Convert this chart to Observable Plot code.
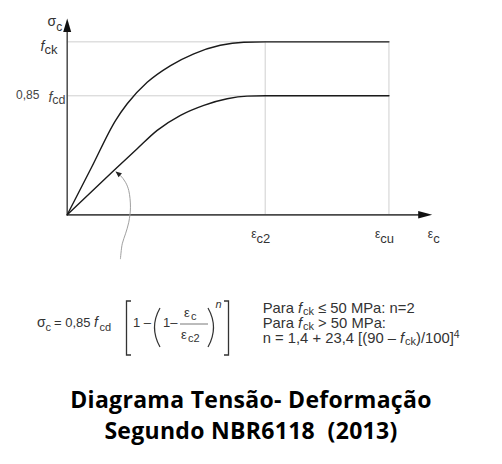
<!DOCTYPE html>
<html><head><meta charset="utf-8">
<script src="https://cdn.jsdelivr.net/npm/d3@7"></script>
<script src="https://cdn.jsdelivr.net/npm/@observablehq/plot@0.6"></script>
<style>
html,body{margin:0;padding:0;background:#fff;}
#page{position:relative;width:502px;height:464px;overflow:hidden;font-family:"Liberation Sans",Arial,sans-serif;}
#chart{position:absolute;left:0;top:0;}
#formula{position:absolute;left:0;top:290px;}
#title{position:absolute;left:0;top:384px;width:502px;text-align:center;font-family:"Open Sans",sans-serif;font-weight:700;font-size:23px;letter-spacing:0.3px;line-height:31px;color:#000;white-space:pre;}
</style></head><body>
<div id="page">
<div id="chart"></div>
<svg id="formula" width="502" height="72" font-family="Liberation Sans, Arial, sans-serif" fill="#333">
  <text x="37" y="36.5" font-size="14">σ</text>
  <text x="45.5" y="41" font-size="11">c</text>
  <text x="54" y="36.5" font-size="13">= 0,85</text>
  <text x="94" y="36.5" font-size="14" font-style="italic">f</text>
  <text x="99.5" y="41" font-size="11">cd</text>
  <path d="M131,11H126.5V65H131" fill="none" stroke="#333" stroke-width="1.3"/>
  <text x="133" y="36.5" font-size="13">1 –</text>
  <path d="M160,18Q149,37.5 160,57" fill="none" stroke="#333" stroke-width="1.2"/>
  <text x="163" y="36.5" font-size="13">1–</text>
  <text x="184" y="27" font-size="13">ε</text>
  <text x="191" y="30" font-size="11">c</text>
  <path d="M180,34H208" fill="none" stroke="#555" stroke-width="0.8"/>
  <text x="181" y="49" font-size="13">ε</text>
  <text x="188" y="52" font-size="11">c2</text>
  <path d="M208,18Q219,37.5 208,57" fill="none" stroke="#333" stroke-width="1.2"/>
  <text x="215.5" y="18" font-size="11" font-style="italic">n</text>
  <path d="M224,11H228.5V65H224" fill="none" stroke="#333" stroke-width="1.3"/>
  <g font-size="14.8">
    <text x="262.7" y="23">Para <tspan font-style="italic">f</tspan><tspan font-size="11" dy="2" dx="0.8">ck</tspan><tspan dy="-2"> ≤ 50 MPa: n=2</tspan></text>
    <text x="262.7" y="37.5">Para <tspan font-style="italic">f</tspan><tspan font-size="11" dy="2" dx="0.8">ck</tspan><tspan dy="-2"> &gt; 50 MPa:</tspan></text>
    <text x="262.7" y="53">n = 1,4 + 23,4 [(90 – <tspan font-style="italic">f</tspan><tspan font-size="11" dy="2" dx="0.8">ck</tspan><tspan dy="-2">)/100]</tspan><tspan font-size="10.5" dy="-5.5">4</tspan></text>
  </g>
</svg>
<div id="title">Diagrama Tensão- Deformação
Segundo NBR6118  (2013)</div>
</div>
<script>
// ---- data (strain in ‰-like schematic units, stress relative to fck) ----
const upperEps   = [0, 0.244, 0.488, 0.606, 0.808, 1.044, 1.279, 1.546, 1.784, 2.0, 3.25];
const upperSigma = [0, 0.272, 0.545, 0.642, 0.766, 0.863, 0.931, 0.980, 0.998, 1.0, 1.0];
const lowerEps   = [0, 0.471, 0.707, 0.909, 1.144, 1.380, 1.616, 1.818, 2.0, 3.25];
const lowerSigma = [0, 0.256, 0.382, 0.488, 0.575, 0.633, 0.671, 0.686, 0.688, 0.688];
const pointerEps   = [0.538, 0.556, 0.589, 0.622, 0.639, 0.622, 0.589, 0.538, 0.495];
const pointerSigma = [-0.254, -0.168, -0.110, -0.043, 0.044, 0.140, 0.188, 0.227, 0.247];
const pointerTip = {x: 0.488, y: 0.250};

const epsC2 = 2.0, epsCu = 3.25, epsMax = 3.687;
const fck = 1.0, fcd085 = 0.688, sigmaMax = 1.135;

const xTickValues = [epsC2, epsCu];
const xTickKeys = ["ec2", "ecu"];
const xAxisKey = "ec";
const yAxisKey = "sigc";

const upper = upperEps.map((x, i) => ({x, y: upperSigma[i]}));
const lower = lowerEps.map((x, i) => ({x, y: lowerSigma[i]}));
const pointer = pointerEps.map((x, i) => ({x, y: pointerSigma[i]}));

// rich-text label definitions: text, size, baseline shift, dx, italic
const rich = {
  sigc: [{t:"σ", s:14}, {t:"c", s:12, y:4.3}],
  fck: [{t:"f", s:14, i:true}, {t:"ck", s:13, y:3}],
  f085: [{t:"0,85", s:12}, {t:"f", s:14, i:true, y:2.7, dx:9}, {t:"cd", s:12.5, y:5}],
  ec2: [{t:"ε", s:12}, {t:"c2", s:13, y:5.7}],
  ecu: [{t:"ε", s:12}, {t:"cu", s:13, y:5.7}],
  ec: [{t:"ε", s:12}, {t:"c", s:13, y:5.7}]
};

const upArrow = {draw(ctx) { ctx.moveTo(0, 0); ctx.lineTo(4, 13.5); ctx.lineTo(-4, 13.5); ctx.closePath(); }};
const rightArrow = {draw(ctx) { ctx.moveTo(0, 0); ctx.lineTo(-14, -3.8); ctx.lineTo(-14, 3.8); ctx.closePath(); }};
const ptrArrow = {draw(ctx) { ctx.moveTo(0, 0); ctx.lineTo(3.1, 5.8); ctx.lineTo(6.4, 1.6); ctx.closePath(); }};

const labelFont = "Liberation Sans, Arial, sans-serif";

const chart = Plot.plot({
  width: 502,
  height: 270,
  marginLeft: 66.7,
  marginRight: 70.3,
  marginTop: 18,
  marginBottom: 55.7,
  x: {domain: [0, epsMax], axis: null},
  y: {domain: [0, sigmaMax], axis: null},
  style: {fontFamily: labelFont, background: "#fff"},
  marks: [
    Plot.ruleY([fck, fcd085], {x1: 0, x2: epsCu, stroke: "#cfcfcf", strokeWidth: 1}),
    Plot.ruleX([epsC2, epsCu], {y1: 0, y2: fck, stroke: "#cfcfcf", strokeWidth: 1}),
    Plot.ruleX([0], {y1: 0, y2: sigmaMax - 0.03, stroke: "#4a4a4a", strokeWidth: 1.5}),
    Plot.ruleY([0], {x1: 0, x2: epsMax - 0.05, stroke: "#4a4a4a", strokeWidth: 1.7}),
    Plot.dot([{x: 0, y: sigmaMax}], {x: "x", y: "y", symbol: upArrow, fill: "#111", stroke: "none"}),
    Plot.dot([{x: epsMax, y: 0}], {x: "x", y: "y", symbol: rightArrow, fill: "#111", stroke: "none"}),
    Plot.line(upper, {x: "x", y: "y", curve: "monotone-x", stroke: "#1a1a1a", strokeWidth: 1.4}),
    Plot.line(lower, {x: "x", y: "y", curve: "monotone-x", stroke: "#1a1a1a", strokeWidth: 1.4}),
    Plot.line(pointer, {x: "x", y: "y", curve: "catmull-rom", stroke: "#a0a0a0", strokeWidth: 1}),
    Plot.dot([pointerTip], {x: "x", y: "y", symbol: ptrArrow, fill: "#222", stroke: "none"}),
    Plot.text([yAxisKey], {x: 0, y: sigmaMax, text: d => d, textAnchor: "end", dx: -5, dy: 3.9, fontSize: 12, fill: "#333"}),
    Plot.text(["fck"], {x: 0, y: fck, text: d => d, textAnchor: "end", dx: -9.7, dy: 4.9, fontSize: 12, fill: "#333"}),
    Plot.text(["f085"], {x: 0, y: fcd085, text: d => d, textAnchor: "end", dx: -1.7, dy: -0.8, fontSize: 12, fill: "#444"}),
    Plot.text(xTickValues, {x: d => d, y: 0, text: (d, i) => xTickKeys[i], textAnchor: "start", dx: -14, dy: 18.9, fontSize: 12, fill: "#333"}),
    Plot.text([xAxisKey], {x: epsMax, y: 0, text: d => d, textAnchor: "start", dx: -4.4, dy: 18.9, fontSize: 12, fill: "#333"})
  ]
});

chart.querySelectorAll("text").forEach(el => {
  const segs = rich[el.textContent];
  if (!segs) return;
  el.textContent = "";
  let cur = 0;
  for (const sg of segs) {
    const ts = document.createElementNS("http://www.w3.org/2000/svg", "tspan");
    ts.textContent = sg.t;
    ts.setAttribute("font-size", sg.s);
    const y = sg.y || 0;
    if (y !== cur) ts.setAttribute("dy", y - cur);
    cur = y;
    if (sg.dx) ts.setAttribute("dx", sg.dx);
    if (sg.i) ts.setAttribute("font-style", "italic");
    el.appendChild(ts);
  }
});

document.getElementById("chart").appendChild(chart);
</script>
</body></html>
